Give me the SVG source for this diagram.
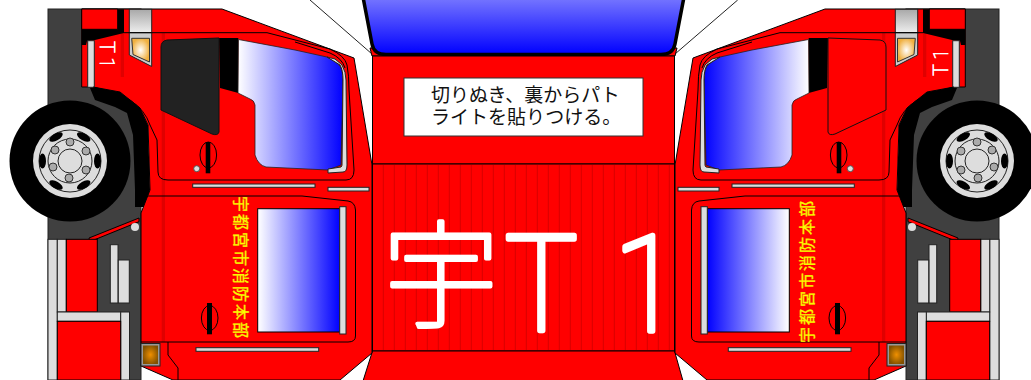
<svg xmlns="http://www.w3.org/2000/svg" xmlns:xlink="http://www.w3.org/1999/xlink" width="1031" height="380" viewBox="0 0 1031 380">
<style>
.l{stroke:#000;stroke-width:1;fill:none}
.r{fill:#f00;stroke:#000;stroke-width:1}
.g{fill:#ddd;stroke:#222;stroke-width:1}
.s{fill:#e00000}
.b{fill:#000}
.big{font-family:Roboto,"Noto Sans",sans-serif;font-weight:100;fill:#fff;stroke:#fff;stroke-width:5.5;stroke-linejoin:round;stroke-linecap:round}
.tiny{font-family:Roboto,"Noto Sans",sans-serif;font-weight:100;fill:#fff;stroke:#fff;stroke-width:.8}
.cjk{font-family:"Noto Sans CJK JP","Noto Sans",sans-serif}
.y{fill:#ff0;stroke:#f0f000;stroke-width:.35}
</style>
<defs>
<linearGradient id="gW" gradientUnits="userSpaceOnUse" x1="238" y1="0" x2="343" y2="0"><stop offset="0" stop-color="#fff"/><stop offset="1" stop-color="#00f"/></linearGradient>
<linearGradient id="gR" gradientUnits="userSpaceOnUse" x1="258" y1="0" x2="340" y2="0"><stop offset="0" stop-color="#fff"/><stop offset="1" stop-color="#00f"/></linearGradient>
<linearGradient id="gT" x1="0" y1="0" x2="0" y2="1"><stop offset="0" stop-color="#7878ff"/><stop offset="1" stop-color="#00f"/></linearGradient>
<linearGradient id="gP" x1="0" y1="0" x2="0" y2="1"><stop offset="0" stop-color="#a8a8a8"/><stop offset="1" stop-color="#eee"/></linearGradient>
<radialGradient id="gL"><stop offset="0" stop-color="#fff"/><stop offset="1" stop-color="#f0b040"/></radialGradient>
<radialGradient id="gA"><stop offset="0" stop-color="#f09000"/><stop offset="1" stop-color="#805000"/></radialGradient>
<g id="wheel">
<circle cx="70" cy="161" r="60.5" fill="#000"/>
<circle cx="70" cy="161" r="37" fill="#ddd"/>
<circle cx="70" cy="161" r="31" fill="none" stroke="#222"/>
<circle cx="70" cy="161" r="22" fill="#ddd" stroke="#222"/>
<circle cx="70" cy="161" r="12" fill="#ddd" stroke="#222"/>
<g class="b">
<ellipse cx="97.5" cy="161" rx="3.5" ry="7.5"/>
<ellipse cx="42.5" cy="161" rx="3.5" ry="7.5"/>
<ellipse cx="83.7" cy="185" rx="7.5" ry="3.5" transform="rotate(-30 83.7 185)"/>
<ellipse cx="56" cy="185" rx="7.5" ry="3.5" transform="rotate(30 56 185)"/>
<ellipse cx="56" cy="137" rx="7.5" ry="3.5" transform="rotate(-30 56 137)"/>
<ellipse cx="83.7" cy="137" rx="7.5" ry="3.5" transform="rotate(30 83.7 137)"/>
</g>
<g fill="#aaa" stroke="#333">
<circle cx="70" cy="142" r="4"/><circle cx="86" cy="151" r="4"/><circle cx="86" cy="170" r="4"/>
<circle cx="69" cy="178" r="4"/><circle cx="53" cy="167" r="4"/><circle cx="55" cy="150" r="4"/>
</g>
</g>
<g id="half">
<rect x="48" y="9" width="93" height="371" fill="#404040" stroke="#222"/>
<path class="b" d="M90 88 L93 87 L120 92 L140 108 L148 125 L150 190 L147 207 L135 207 L135 190 L133 135 L127 113 L115 107 L95 100Z"/>
<path class="r" d="M81.7 9 H222 L354 58 L372 165 V353 L340 380 H173 L141 366 V213 L150 190 L148 125 L140 108 L120 92 L93 87 H81.7Z"/>
<path class="s" d="M120.7 33 H124 V77 H120.7Z M161.7 33 H165 V342 H161.7Z"/>
<path class="r" d="M81.7 9 H117.7 V29.3 H81.7Z"/>
<path class="b" d="M81.7 29.3 H117.7 V9.3 H124 V33 L95 40 L87 41 L86 45 H81.7Z"/>
<rect x="87.7" y="40.7" width="6.6" height="46.6" class="g"/>
<rect x="129.3" y="9.3" width="22.4" height="23.4" fill="url(#gP)" stroke="#222"/>
<path class="g" d="M129.3 32.7 H151.7 V66.5 L129.3 55Z" style="fill:#ccc"/>
<path d="M131.7 38.3 H149.5 V62 L133 54.5Z" fill="url(#gL)" stroke="#333"/>
<path class="l" d="M124 32.7 H267 L330 49 Q345 56 347 65 Q349 75 349 90 L354 170 Q354 180 346 180 H168 Q158 180 158 172 L157 140 L150 125 Q145 110 130 100 Q115 92 93 87"/>
<path class="l" d="M295 42 L330 53 Q342 58 345 68"/>
<path class="b" d="M219 38 H238.3 V93 L220 88Z"/>
<path d="M238.5 39.5 L295 50 L327 57 Q340 63 342 70 Q343 75 343 80 L341 165 L328 170 L266 167 Q258 165 255 155 V105 Q254 100 250 99 L238 93Z" fill="url(#gW)" stroke="#222" stroke-width=".8"/>
<path class="g" d="M327 57 L335 59 L342 65 Q346 72 346 80 L347 165 Q347 172 343 172 L328 173 V169 L341 167 Q342 166 342 165 L343 80 Q343 70 340 65Z"/>
<ellipse cx="208.3" cy="155" rx="8.3" ry="13" class="l"/>
<rect x="205.7" y="142" width="4.6" height="31.3" class="b"/>
<circle cx="196.7" cy="168.7" r="3" fill="#ddd" stroke="#555"/>
<rect x="192.7" y="184" width="122.3" height="3.3" class="g"/>
<rect x="328" y="187.3" width="41" height="3.7" class="g"/>
<path class="l" d="M148 196 H302 L348 201 Q355 202 355.5 210 V336 Q355.5 342 348 342 H141"/>
<path class="l" d="M168 342 V355 L178 368 V380"/>
<path class="r" d="M89 238 L139 218 V221.7 L89.7 241.7Z"/>
<circle cx="135" cy="227" r="4" fill="#ddd"/>
<rect x="48" y="239.3" width="9.3" height="140.7" class="g"/>
<rect x="57.3" y="239.3" width="9" height="72.7" class="g"/>
<rect x="66.3" y="239.3" width="31" height="72.7" class="r"/>
<rect x="57.3" y="312" width="63.4" height="9.3" class="g"/>
<rect x="120.7" y="312" width="8.8" height="68" class="g"/>
<rect x="57.3" y="321.3" width="63.4" height="58.7" class="r"/>
<rect x="110.3" y="244.7" width="7.7" height="58.3" class="g"/>
<rect x="118.3" y="260" width="11" height="43" class="g"/>
<rect x="142" y="344.5" width="17" height="20.5" fill="url(#gA)" stroke="#999" stroke-width="2"/>
<rect x="141" y="343.5" width="19" height="22.5" fill="none" stroke="#222"/>
<rect x="257.7" y="208.7" width="82.3" height="123.3" fill="url(#gR)" stroke="#000"/>
<rect x="339.7" y="206.7" width="6.3" height="127.3" class="g"/>
<ellipse cx="209.7" cy="318" rx="8.3" ry="12.5" class="l"/>
<rect x="207" y="303" width="5" height="31.3" class="b"/>
<rect x="196" y="347.7" width="122.7" height="3.6" class="g"/>
<use href="#wheel" xlink:href="#wheel"/>
</g>
</defs>
<g id="hood">
<path d="M310 0 L372 54 M737.7 0 L675 54" stroke="#222" stroke-width="1" fill="none"/>
<path d="M370 48 L372 56 H675 L677 48Z" class="r"/>
<path d="M363 -3 L372 44 Q374 54.5 386 54.5 H661 Q673 54.5 675 44 L684 -3Z" fill="url(#gT)" stroke="#000" stroke-width="3.5"/>
</g>
<g id="center-panel">
<rect x="372.5" y="56" width="302" height="108" class="r"/>
<rect x="372.5" y="164" width="302" height="187" class="r"/>
<path d="M383.3 165V350M394.3 165V350M405.3 165V350M416.3 165V350M427.3 165V350M438.3 165V350M449.3 165V350M460.3 165V350M471.3 165V350M482.3 165V350M493.3 165V350M504.3 165V350M515.3 165V350M526.3 165V350M537.3 165V350M548.3 165V350M559.3 165V350M570.3 165V350M581.3 165V350M592.3 165V350M603.3 165V350M614.3 165V350M625.3 165V350M636.3 165V350M647.3 165V350M658.3 165V350M669.3 165V350" stroke="#d80000" stroke-width="1" fill="none"/>
<path class="r" d="M372.5 351 H674.5 L683 381 H363Z"/>
<rect x="404" y="78" width="239" height="58" fill="#fff" stroke="#333"/>
<text class="cjk" font-size="19" fill="#111" y="102"><tspan x="431">切りぬき、裏からパト</tspan><tspan x="431" dy="22">ライトを貼りつける。</tspan></text>
<text class="big cjk" font-size="116" y="318" x="383" style="font-family:'Noto Sans CJK JP',sans-serif;stroke-width:4">宇</text>
<text class="big" font-size="132" transform="translate(0 331) scale(.92 1.01)"><tspan x="549">T </tspan><tspan x="667">1</tspan></text>
</g>
<g id="left-side">
<use href="#half" xlink:href="#half"/>
<path d="M167 40 L219 38 V132 Q218 136 212 134 L161 110 V47 Q161 41 167 40Z" fill="#222" stroke="#111"/>
<text class="tiny" font-size="20" transform="translate(100 41) rotate(90)">T 1</text>
<text class="cjk y" font-size="16" letter-spacing="2" transform="translate(235 196) rotate(90)">宇都宮市消防本部</text>
</g>
<g id="right-side">
<use href="#half" xlink:href="#half" transform="translate(1047 0) scale(-1 1)"/>
<path d="M880 40 L828 38 V132 Q829 136 835 134 L886 110 V47 Q886 41 880 40Z" fill="#f00" stroke="#111"/>
<text class="tiny" font-size="20" transform="translate(948 76) rotate(-90)">T 1</text>
<text class="cjk y" font-size="16" letter-spacing="2" transform="translate(813 343) rotate(-90)">宇都宮市消防本部</text>
</g>
</svg>
